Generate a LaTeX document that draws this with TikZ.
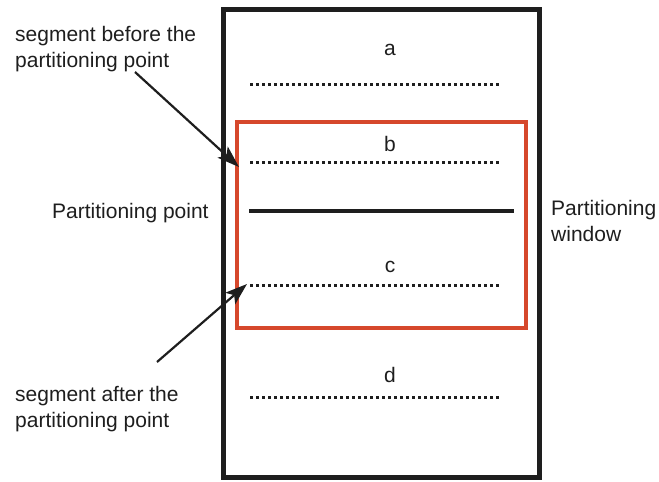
\documentclass[tikz,border=0pt]{standalone}
\usepackage{fontspec}
\setmainfont{Liberation Sans}
\usetikzlibrary{arrows.meta}
\definecolor{winred}{RGB}{214,72,44}
\definecolor{ink}{RGB}{30,30,30}
\tikzset{
  lbl/.style={font=\fontsize{21}{26}\selectfont, text=ink, inner sep=0pt},
  dotline/.style={line width=3pt, dash pattern=on 3pt off 3pt, ink},
  pointer/.style={line width=2.2pt, ink, -{Stealth[length=22pt,width=15pt,inset=5pt]}},
}
\begin{document}
\begin{tikzpicture}[x=1pt,y=-1pt]
\useasboundingbox (0,0) rectangle (659,482);
% outer box
\draw[line width=5pt, ink] (223,9) rectangle (539,477);
% window
\draw[line width=4.5pt, winred] (237,122) rectangle (526,328);
% dotted segment lines
\coordinate (a1) at (250,84); \coordinate (a2) at (500,84);
\coordinate (b1) at (250,162); \coordinate (b2) at (500,162);
\coordinate (c1) at (250,285); \coordinate (c2) at (500,285);
\coordinate (d1) at (250,397); \coordinate (d2) at (500,397);
\draw[dotline] (a1) -- (a2);
\draw[dotline] (b1) -- (b2);
\draw[dotline] (c1) -- (c2);
\draw[dotline] (d1) -- (d2);
% partitioning point line
\coordinate (p1) at (249,211); \coordinate (p2) at (514,211);
\draw[line width=4pt, ink] (p1) -- (p2);
% segment labels
\node[lbl] (la) at (390,50) {a};
\node[lbl] (lb) at (390,144) {b};
\node[lbl] (lc) at (390,267) {c};
\node[lbl] (ld) at (390,375) {d};
% side labels
\node[lbl, anchor=west, align=left] (before) at (15,49) {segment before the\\partitioning point};
\node[lbl, anchor=west] (ppt) at (52,213) {Partitioning point};
\node[lbl, anchor=west, align=left] (win) at (551,221) {Partitioning\\window};
\node[lbl, anchor=west, align=left] (after) at (15,409) {segment after the\\partitioning point};
% arrows
\coordinate (bs) at (135,72); \coordinate (be) at (239,167);
\coordinate (as) at (157,362); \coordinate (ae) at (247,284);
\draw[pointer] (bs) -- (be);
\draw[pointer] (as) -- (ae);
\end{tikzpicture}
\end{document}
